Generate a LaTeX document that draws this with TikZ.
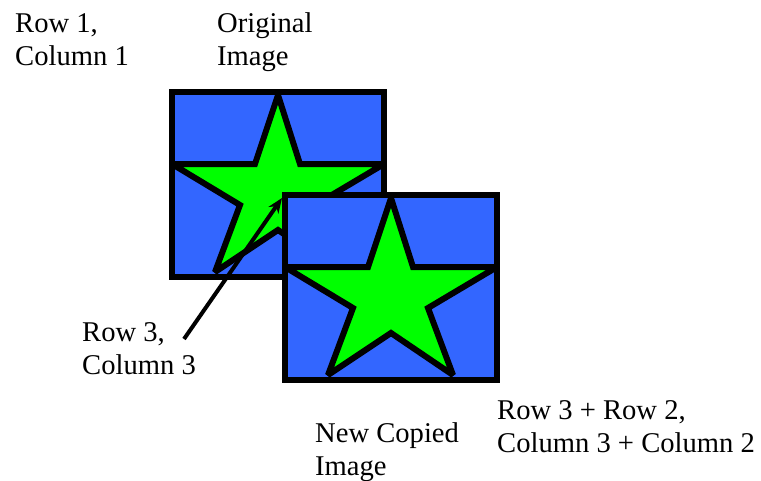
\documentclass[tikz,border=0pt]{standalone}
\usepackage{fontspec}
\setmainfont{Liberation Serif}
\usepackage{tikz}
\usetikzlibrary{arrows.meta,positioning}
\definecolor{tileblue}{RGB}{51,102,255}
\definecolor{stargreen}{RGB}{0,255,0}
\tikzset{
  tile/.style={draw=black, fill=tileblue, line width=6pt},
  starfig/.style={draw=black, fill=stargreen, line width=6pt, miter limit=2},
  lbl/.style={anchor=base west, inner sep=0pt, align=left,
    font=\fontsize{28.6}{32.5}\selectfont}
}

\begin{document}
\begin{tikzpicture}[x=1pt, y=-1pt]
    \useasboundingbox (0,0) rectangle (761,480);

    % Original image and its copy, shifted down to the right
    \foreach \ox/\oy in {172/92, 285/195} {
      \begin{scope}[shift={(\ox,\oy)}]
        \draw[tile] (0,0) rectangle (212,185);
        \draw[starfig] (106,3) -- (128,72) -- (212,72) -- (143,113) -- (168,180)
          -- (106,138) -- (43,180) -- (68,113) -- (0,72) -- (83,72) -- cycle;
      \end{scope}
    }

    % Labels (placed at the baseline of their last line)
    \node[lbl] (rowone) at (15,65) {Row 1,\\Column 1};
    \node[lbl] (orig) at (217,65) {Original\\Image};
    \node[lbl] (rowthree) at (82,374) {Row 3,\\Column 3};
    \node[lbl] (newcopy) at (315,475) {New Copied\\Image};
    \node[lbl] (rowsum) at (497,452) {Row 3 + Row 2,\\Column 3 + Column 2};

    % Pointer to the centre of the original star
    \coordinate (tail) at (184,339);
    \coordinate (tip) at (282,198);
    \draw[-{Stealth[length=15pt, width=12pt]}, line width=4pt] (tail) -- (tip);
\end{tikzpicture}
\end{document}
